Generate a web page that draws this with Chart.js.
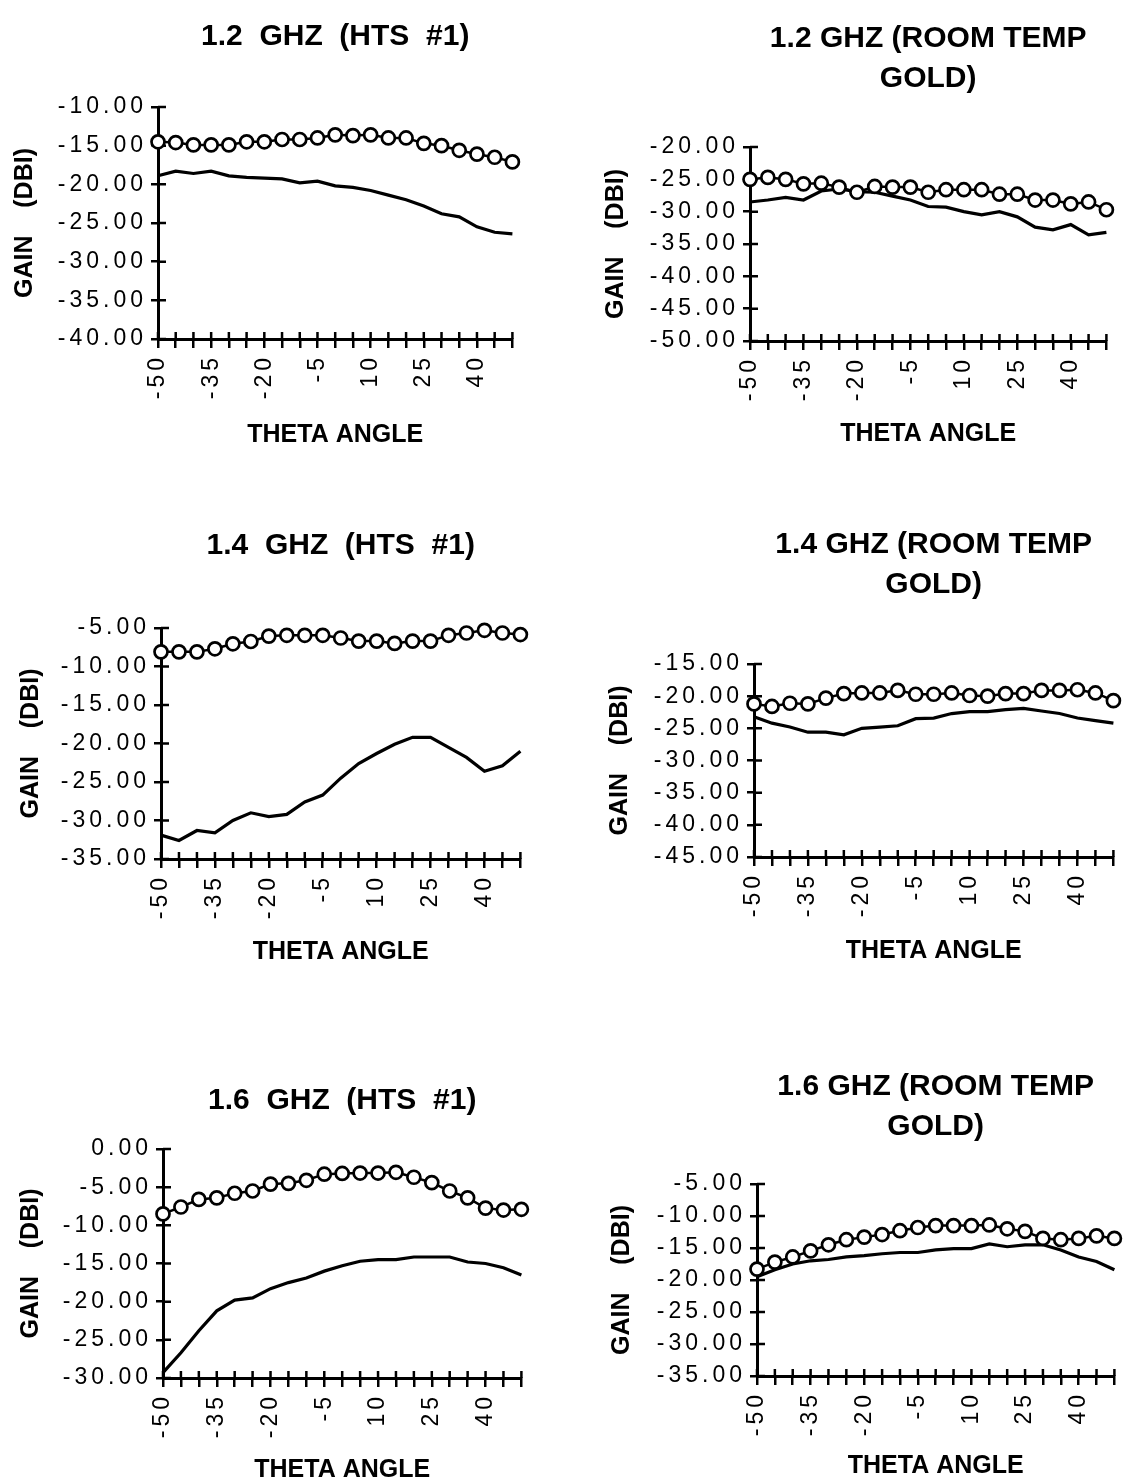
<!DOCTYPE html>
<html>
<head>
<meta charset="utf-8">
<script src="https://cdn.jsdelivr.net/npm/chart.js@4/dist/chart.umd.min.js"></script>
<style>
html,body{margin:0;padding:0;background:#fff;}
body{width:1125px;height:1484px;position:relative;overflow:hidden;}
canvas{position:absolute;}
</style>
</head>
<body>
<script>
// ---------- data ----------
const THETA = [-50,-45,-40,-35,-30,-25,-20,-15,-10,-5,0,5,10,15,20,25,30,35,40,45,50];
const X_TICK_LABELS = ['-50','-35','-20','-5','10','25','40'];
const X_TITLE = 'THETA ANGLE';
const Y_TITLE = 'GAIN    (DBI)';

const TITLE_12_HTS = ['1.2  GHZ  (HTS  #1)'];
const TITLE_12_GOLD = ['1.2 GHZ (ROOM TEMP', 'GOLD)'];
const TITLE_14_HTS = ['1.4  GHZ  (HTS  #1)'];
const TITLE_14_GOLD = ['1.4 GHZ (ROOM TEMP', 'GOLD)'];
const TITLE_16_HTS = ['1.6  GHZ  (HTS  #1)'];
const TITLE_16_GOLD = ['1.6 GHZ (ROOM TEMP', 'GOLD)'];

const Y_RANGE_12_HTS = [-40, -10];
const Y_RANGE_12_GOLD = [-50, -20];
const Y_RANGE_14_HTS = [-35, -5];
const Y_RANGE_14_GOLD = [-45, -15];
const Y_RANGE_16_HTS = [-30, 0];
const Y_RANGE_16_GOLD = [-35, -5];

const CIRCLES_12_HTS = [-14.5,-14.6,-14.9,-14.9,-14.9,-14.5,-14.5,-14.2,-14.2,-14.0,-13.6,-13.7,-13.6,-14.0,-14.0,-14.7,-15.0,-15.6,-16.1,-16.5,-17.1];
const LINE_12_HTS    = [-18.9,-18.3,-18.6,-18.3,-18.9,-19.1,-19.2,-19.3,-19.8,-19.6,-20.2,-20.4,-20.8,-21.4,-22.0,-22.8,-23.8,-24.2,-25.5,-26.2,-26.4];

const CIRCLES_12_GOLD = [-25.0,-24.7,-25.0,-25.7,-25.6,-26.2,-27.0,-26.1,-26.2,-26.2,-27.0,-26.6,-26.6,-26.6,-27.3,-27.3,-28.2,-28.2,-28.8,-28.5,-29.7];
const LINE_12_GOLD    = [-28.5,-28.2,-27.8,-28.2,-26.8,-26.5,-26.9,-27.0,-27.6,-28.2,-29.2,-29.3,-30.0,-30.5,-30.0,-30.8,-32.4,-32.8,-32.0,-33.6,-33.2];

const CIRCLES_14_HTS = [-8.1,-8.1,-8.1,-7.7,-7.05,-6.75,-6.05,-5.95,-5.95,-5.95,-6.3,-6.7,-6.7,-7.0,-6.7,-6.7,-5.95,-5.65,-5.3,-5.65,-5.85];
const LINE_14_HTS    = [-31.9,-32.6,-31.3,-31.6,-30.0,-29.0,-29.5,-29.2,-27.6,-26.7,-24.5,-22.6,-21.3,-20.1,-19.2,-19.2,-20.5,-21.8,-23.6,-22.9,-21.0];

const CIRCLES_14_GOLD = [-21.2,-21.6,-21.1,-21.2,-20.3,-19.6,-19.5,-19.5,-19.1,-19.7,-19.7,-19.5,-19.9,-20.0,-19.6,-19.6,-19.1,-19.1,-19.0,-19.5,-20.7];
const LINE_14_GOLD    = [-23.2,-24.2,-24.8,-25.6,-25.6,-26.0,-25.0,-24.8,-24.6,-23.5,-23.4,-22.7,-22.4,-22.4,-22.1,-21.9,-22.3,-22.7,-23.4,-23.8,-24.2];

const CIRCLES_16_HTS = [-8.5,-7.6,-6.6,-6.4,-5.8,-5.5,-4.6,-4.5,-4.1,-3.3,-3.2,-3.15,-3.15,-3.05,-3.7,-4.4,-5.5,-6.4,-7.75,-8.0,-7.9];
const LINE_16_HTS    = [-29.3,-26.7,-23.8,-21.2,-19.8,-19.5,-18.3,-17.5,-16.9,-16.0,-15.3,-14.7,-14.5,-14.5,-14.15,-14.15,-14.15,-14.8,-15.0,-15.55,-16.5];

const CIRCLES_16_GOLD = [-18.3,-17.2,-16.4,-15.45,-14.5,-13.7,-13.3,-12.9,-12.3,-11.8,-11.5,-11.5,-11.5,-11.4,-12.0,-12.4,-13.5,-13.7,-13.5,-13.1,-13.5];
const LINE_16_GOLD    = [-19.5,-18.4,-17.5,-17.0,-16.8,-16.4,-16.2,-15.9,-15.7,-15.7,-15.3,-15.1,-15.1,-14.35,-14.8,-14.5,-14.5,-15.3,-16.4,-17.1,-18.4];

// ---------- layout (page positions of each panel) ----------
const PANELS = [
  {title: TITLE_12_HTS,  yr: Y_RANGE_12_HTS,  c: CIRCLES_12_HTS,  l: LINE_12_HTS,  L:158, R:516,  T:107,  B:339,  tY:37,   yT:25,  xT:435},
  {title: TITLE_12_GOLD, yr: Y_RANGE_12_GOLD, c: CIRCLES_12_GOLD, l: LINE_12_GOLD, L:750, R:1110, T:147,  B:341,  tY:39,   yT:616, xT:434},
  {title: TITLE_14_HTS,  yr: Y_RANGE_14_HTS,  c: CIRCLES_14_HTS,  l: LINE_14_HTS,  L:161, R:524,  T:628,  B:859,  tY:546,  yT:31,  xT:952},
  {title: TITLE_14_GOLD, yr: Y_RANGE_14_GOLD, c: CIRCLES_14_GOLD, l: LINE_14_GOLD, L:754, R:1117, T:664,  B:857,  tY:545,  yT:620, xT:951},
  {title: TITLE_16_HTS,  yr: Y_RANGE_16_HTS,  c: CIRCLES_16_HTS,  l: LINE_16_HTS,  L:163, R:525,  T:1149, B:1378, tY:1101, yT:31,  xT:1470},
  {title: TITLE_16_GOLD, yr: Y_RANGE_16_GOLD, c: CIRCLES_16_GOLD, l: LINE_16_GOLD, L:757, R:1118, T:1184, B:1376, tY:1087, yT:622, xT:1466}
];

Chart.defaults.font.family = "'Liberation Sans', Arial, Helvetica, sans-serif";
Chart.defaults.color = '#000';

const FONT_TITLE = 30, TITLE_LH = 1.33, FONT_AXT = 25, FONT_TICK = 23, LETTER_SP = 4;

const axisDecor = {
  id: 'axisDecor',
  beforeDraw(chart) { chart.ctx.letterSpacing = '0px'; },
  beforeDatasetsDraw(chart) {
    const {ctx, chartArea, scales} = chart;
    const x = scales.x, y = scales.y;
    ctx.save();
    ctx.strokeStyle = '#000';
    ctx.lineWidth = 2.5;
    ctx.beginPath();
    x.ticks.forEach((t, i) => {
      const px = x.getPixelForTick(i);
      ctx.moveTo(px, chartArea.bottom);
      ctx.lineTo(px, chartArea.bottom - 7);
    });
    y.ticks.forEach((t, i) => {
      const py = y.getPixelForTick(i);
      ctx.moveTo(chartArea.left, py);
      ctx.lineTo(chartArea.left + 8, py);
    });
    ctx.stroke();
    ctx.restore();
  },
  afterDatasetsDraw(chart) { chart.ctx.letterSpacing = LETTER_SP + 'px'; },
  afterDraw(chart) { chart.ctx.letterSpacing = '0px'; }
};

PANELS.forEach(p => {
  const tLine = FONT_TITLE * TITLE_LH;
  const axLine = FONT_AXT * 1.2;
  const left = Math.round(p.yT - axLine / 2 - 4);
  const top = Math.round(p.tY - 4 - tLine / 2);
  const right = p.R + 30;
  const bottom = Math.round(p.xT + axLine / 2 + 4);
  const w = right - left, h = bottom - top;
  const titleBox = p.T - top;
  const yAxisW = p.L - left;
  const xAxisH = bottom - p.B;

  const cv = document.createElement('canvas');
  cv.width = w; cv.height = h;
  cv.style.left = left + 'px'; cv.style.top = top + 'px';
  cv.style.width = w + 'px'; cv.style.height = h + 'px';
  document.body.appendChild(cv);

  new Chart(cv, {
    type: 'line',
    data: {
      datasets: [
        {
          label: 'Series A',
          data: THETA.map((t, i) => ({x: t, y: p.c[i]})),
          borderColor: '#000', borderWidth: 2.5,
          pointRadius: 6.5, pointBorderWidth: 2.7,
          pointBackgroundColor: '#fff', pointBorderColor: '#000',
          pointStyle: 'circle', tension: 0, clip: false
        },
        {
          label: 'Series B',
          data: THETA.map((t, i) => ({x: t, y: p.l[i]})),
          borderColor: '#000', borderWidth: 3.2,
          pointRadius: 0, tension: 0, clip: false
        }
      ]
    },
    options: {
      responsive: false,
      animation: false,
      devicePixelRatio: 1,
      layout: {padding: {left: 0, right: 30, top: 0, bottom: 0}},
      plugins: {
        legend: {display: false},
        tooltip: {enabled: false},
        title: {
          display: true,
          text: p.title,
          fullSize: false,
          color: '#000',
          font: {size: FONT_TITLE, weight: 'bold', lineHeight: TITLE_LH},
          padding: {top: 4, bottom: titleBox - 4 - p.title.length * tLine}
        }
      },
      scales: {
        x: {
          type: 'linear',
          min: THETA[0], max: THETA[THETA.length - 1],
          afterFit: s => { s.height = xAxisH; },
          border: {display: true, color: '#000', width: 3},
          grid: {display: true, drawOnChartArea: false, drawTicks: true, tickLength: 9, color: '#000', lineWidth: 2.5},
          ticks: {
            stepSize: 5, autoSkip: false, minRotation: 90, maxRotation: 90,
            padding: 6, z: 1, color: '#000',
            font: {size: FONT_TICK},
            callback: v => X_TICK_LABELS.includes(String(v)) ? String(v) : ''
          },
          title: {display: true, text: X_TITLE, color: '#000',
                  font: {size: FONT_AXT, weight: 'bold'}, padding: {top: 0, bottom: 4}}
        },
        y: {
          type: 'linear',
          min: p.yr[0], max: p.yr[1],
          afterFit: s => { s.width = yAxisW; },
          border: {display: true, color: '#000', width: 3},
          grid: {display: true, drawOnChartArea: false, drawTicks: true, tickLength: 7, color: '#000', lineWidth: 2.5},
          ticks: {
            stepSize: 5, padding: 4, z: 1, color: '#000',
            font: {size: FONT_TICK},
            callback: v => Number(v).toFixed(2)
          },
          title: {display: true, text: Y_TITLE, color: '#000',
                  font: {size: FONT_AXT, weight: 'bold'}, padding: {top: 4, bottom: 0}}
        }
      }
    },
    plugins: [axisDecor]
  });
});
</script>
</body>
</html>
